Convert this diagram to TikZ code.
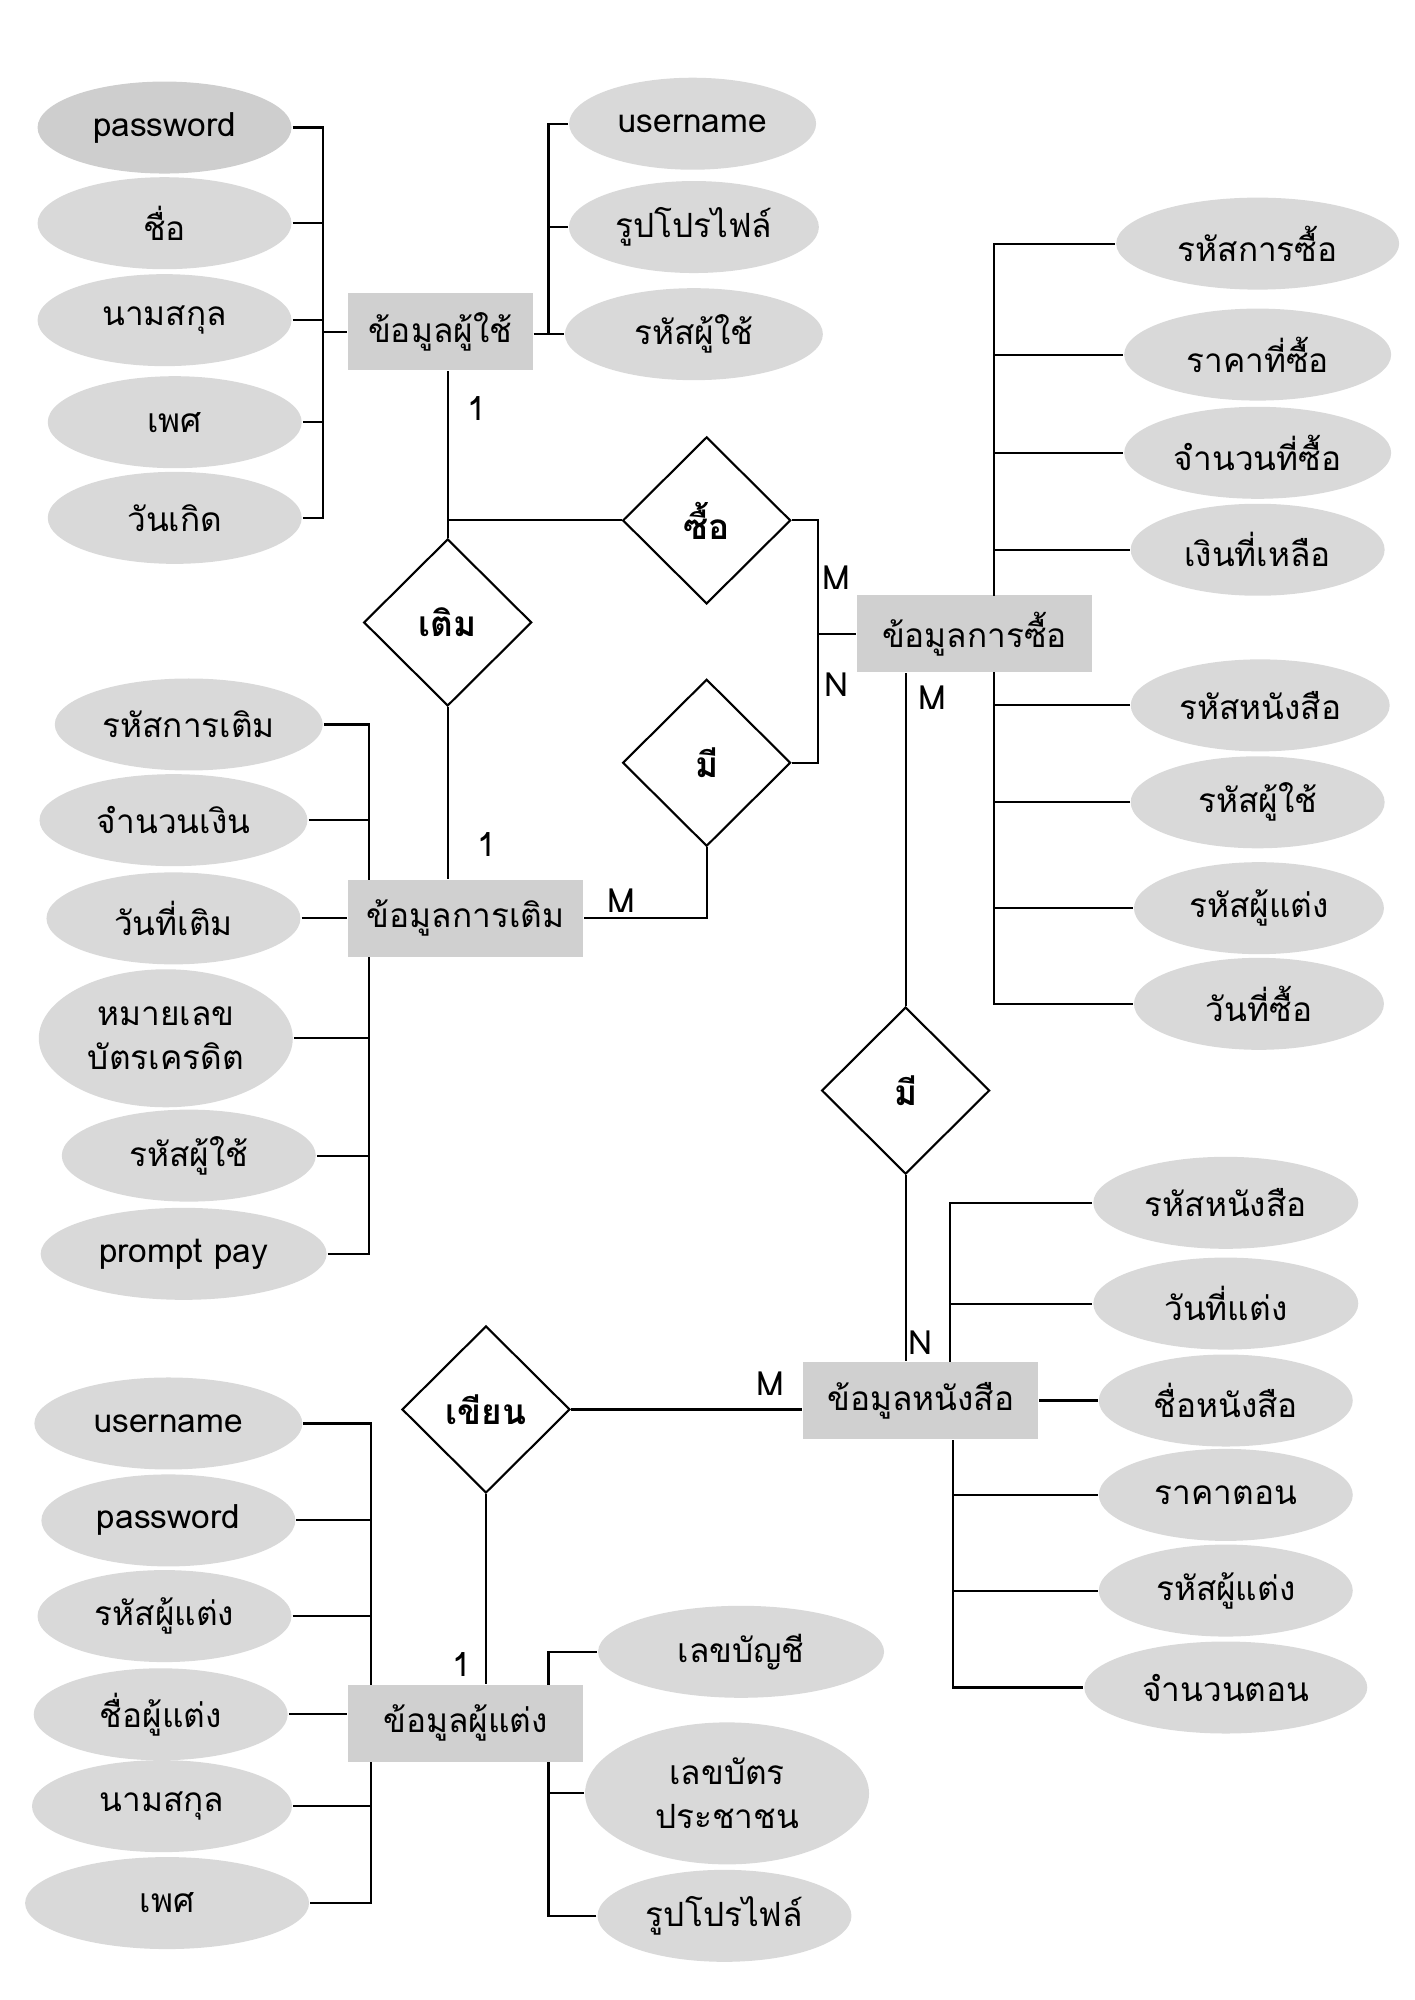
\documentclass[tikz,border=0pt]{standalone}
\usepackage{fontspec}
\setmainfont[Script=Thai]{Loma}
\usepackage{xcolor}
\usepackage{tikz}
\usetikzlibrary{shapes.geometric}
\definecolor{entgray}{RGB}{208,208,208}
\definecolor{attrgray}{RGB}{217,217,217}
\definecolor{darkattr}{RGB}{206,206,206}

\begin{document}
\begin{tikzpicture}[x=0.01275cm,y=-0.01275cm,semithick,
  every node/.style={font=\fontsize{9.5}{12.5}\selectfont},
  ent/.style={rectangle,fill=entgray,minimum width=2.35cm,minimum height=0.77cm},
  rel/.style={diamond,draw,fill=white,minimum width=1.68cm,minimum height=1.67cm,inner sep=0pt,font=\fontsize{10}{12}\selectfont\bfseries},
  attr/.style={ellipse,fill=attrgray,minimum width=2.54cm,minimum height=0.92cm,inner sep=0pt,align=center},
  card/.style={inner sep=1pt}]
\useasboundingbox (0,0) rectangle (1109,1568);
\node (1) at (345,260) [ent,minimum width=1.85cm] {ข้อมูลผู้ใช้};
\node (2) at (764,497) [ent] {ข้อมูลการซื้อ};
\node (3) at (365,720) [ent] {ข้อมูลการเติม};
\node (4) at (722,1098) [ent] {ข้อมูลหนังสือ};
\node (5) at (365,1351) [ent] {ข้อมูลผู้แต่ง};
\node (6) at (554,408) [rel] {ซื้อ};
\node (7) at (351,488) [rel] {เติม};
\node (8) at (554,598) [rel] {มี};
\node (9) at (710,855) [rel] {มี};
\node (10) at (381,1105) [rel] {เขียน};
\node (11) at (129,100) [attr,fill=darkattr] {password};
\node (12) at (129,175) [attr] {ชื่อ};
\node (13) at (129,251) [attr] {นามสกุล};
\node (14) at (137,331) [attr] {เพศ};
\node (15) at (137,406) [attr] {วันเกิด};
\node (16) at (543,97) [attr,minimum width=2.47cm] {username};
\node (17) at (544,178) [attr,minimum width=2.5cm] {รูปโปรไฟล์};
\node (18) at (544,262) [attr,minimum width=2.58cm] {รหัสผู้ใช้};
\node (19) at (986,191) [attr,minimum width=2.83cm] {รหัสการซื้อ};
\node (20) at (986,278) [attr,minimum width=2.67cm] {ราคาที่ซื้อ};
\node (21) at (986,355) [attr,minimum width=2.67cm] {จำนวนที่ซื้อ};
\node (22) at (986,431) [attr] {เงินที่เหลือ};
\node (23) at (988,553) [attr,minimum width=2.59cm] {รหัสหนังสือ};
\node (24) at (986,629) [attr] {รหัสผู้ใช้};
\node (25) at (987,712) [attr,minimum width=2.5cm] {รหัสผู้แต่ง};
\node (26) at (987,787) [attr,minimum width=2.5cm] {วันที่ซื้อ};
\node (27) at (148,568) [attr,minimum width=2.68cm] {รหัสการเติม};
\node (28) at (136,643) [attr,minimum width=2.68cm] {จำนวนเงิน};
\node (29) at (136,720) [attr] {วันที่เติม};
\node (30) at (130,814) [attr,minimum height=1.38cm] {หมายเลข\\บัตรเครดิต};
\node (31) at (148,906) [attr] {รหัสผู้ใช้};
\node (32) at (144,983) [attr,minimum width=2.86cm] {prompt pay};
\node (33) at (961,943) [attr,minimum width=2.65cm] {รหัสหนังสือ};
\node (34) at (961,1022) [attr,minimum width=2.65cm] {วันที่แต่ง};
\node (35) at (961,1098) [attr] {ชื่อหนังสือ};
\node (36) at (961,1172) [attr] {ราคาตอน};
\node (37) at (961,1247) [attr] {รหัสผู้แต่ง};
\node (38) at (961,1323) [attr,minimum width=2.83cm] {จำนวนตอน};
\node (39) at (132,1116) [attr,minimum width=2.68cm] {username};
\node (40) at (132,1192) [attr] {password};
\node (41) at (129,1267) [attr] {รหัสผู้แต่ง};
\node (42) at (126,1344) [attr] {ชื่อผู้แต่ง};
\node (43) at (127,1416) [attr,minimum width=2.6cm] {นามสกุล};
\node (44) at (131,1492) [attr,minimum width=2.84cm] {เพศ};
\node (45) at (581,1295) [attr,minimum width=2.86cm] {เลขบัญชี};
\node (46) at (570,1406) [attr,minimum width=2.84cm,minimum height=1.42cm] {เลขบัตร\\ประชาชน};
\node (47) at (568,1502) [attr] {รูปโปรไฟล์};
\node (l1) at (374,320) [card] {1};
\node (l2) at (656,453) [card] {M};
\node (l3) at (656,537) [card] {N};
\node (l4) at (382,662) [card] {1};
\node (l5) at (487,706) [card] {M};
\node (l6) at (731,547) [card] {M};
\node (l7) at (722,1053) [card] {N};
\node (l8) at (604,1085) [card] {M};
\node (l9) at (362,1305) [card] {1};
\coordinate (b1) at (253,260);
\coordinate (b2) at (430,262);
\coordinate (b3) at (779,467);
\coordinate (b4) at (779,527);
\coordinate (b5) at (289,690);
\coordinate (b6) at (289,750);
\coordinate (b7) at (745,1068);
\coordinate (b8) at (747,1129);
\coordinate (b9) at (291,1321);
\coordinate (b10) at (291,1381);
\coordinate (b11) at (430,1321);
\coordinate (b12) at (430,1381);
\coordinate (c1) at (641,497);
\draw  (11.east) -| (b1);
\draw  (12.east) -| (b1);
\draw  (13.east) -| (b1);
\draw  (14.east) -| (b1);
\draw  (15.east) -| (b1);
\draw  (b1) -- (1.west);
\draw  (16.west) -| (b2);
\draw  (17.west) -| (b2);
\draw  (18.west -| 1.east) -- (18.west);
\draw  (19.west) -| (b3);
\draw  (20.west) -| (b3);
\draw  (21.west) -| (b3);
\draw  (22.west) -| (b3);
\draw  (23.west) -| (b4);
\draw  (24.west) -| (b4);
\draw  (25.west) -| (b4);
\draw  (26.west) -| (b4);
\draw  (27.east) -| (b5);
\draw  (28.east) -| (b5);
\draw  (29.east) -- (29.east -| 3.west);
\draw  (30.east) -| (b6);
\draw  (31.east) -| (b6);
\draw  (32.east) -| (b6);
\draw  (33.west) -| (b7);
\draw  (34.west) -| (b7);
\draw  (35.west -| 4.east) -- (35.west);
\draw  (36.west) -| (b8);
\draw  (37.west) -| (b8);
\draw  (38.west) -| (b8);
\draw  (39.east) -| (b9);
\draw  (40.east) -| (b9);
\draw  (41.east) -| (b9);
\draw  (42.east) -- (42.east -| 5.west);
\draw  (43.east) -| (b10);
\draw  (44.east) -| (b10);
\draw  (45.west) -| (b11);
\draw  (46.west) -| (b12);
\draw  (47.west) -| (b12);
\draw  (1.south -| 7) -- (7.north);
\draw  (7.north |- 6.west) -- (6.west);
\draw  (6.east) -| (c1) -- (2.west);
\draw  (8.east) -| (c1);
\draw  (7.south) -- (3.north -| 7);
\draw  (3.east) -| (8.south);
\draw  (2.south -| 9) -- (9.north);
\draw  (9.south) -- (4.north -| 9);
\draw  (10.east) -- (10.east -| 4.west);
\draw  (10.south) -- (5.north -| 10);
\end{tikzpicture}
\end{document}
